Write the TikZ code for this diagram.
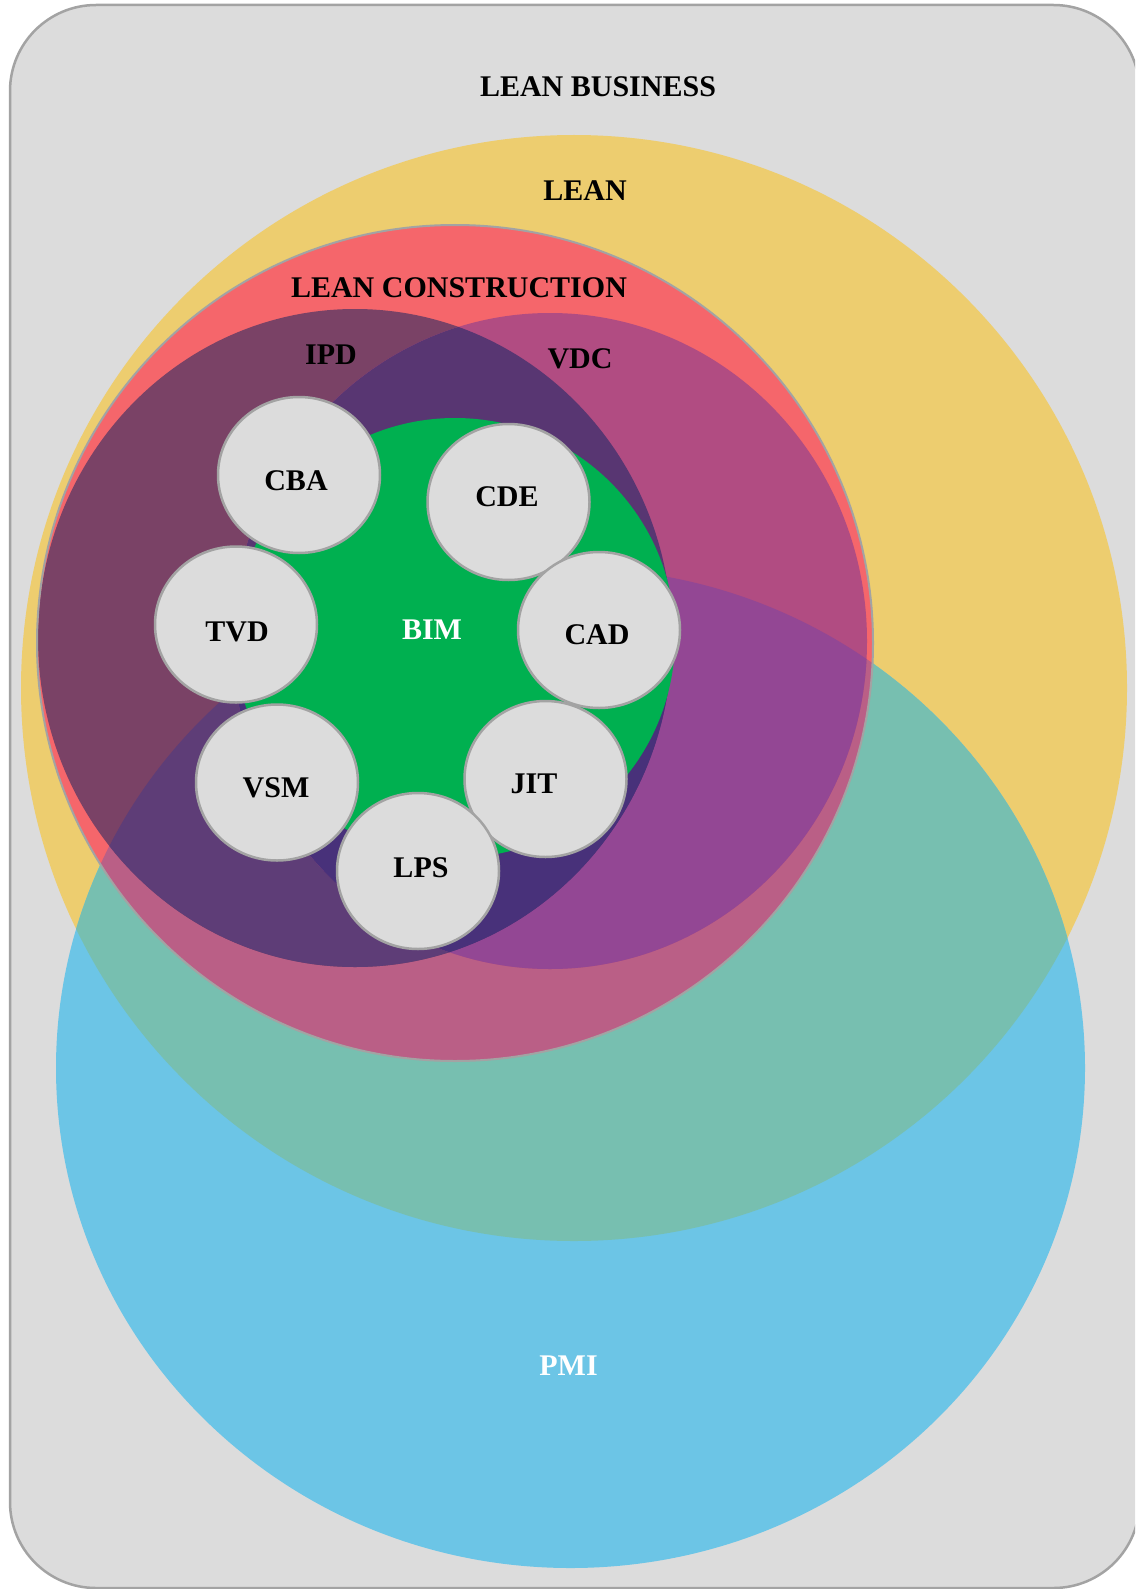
\documentclass[tikz,border=0pt]{standalone}
\usepackage{fontspec}
\setmainfont{Liberation Serif}
\usetikzlibrary{shapes.geometric}
\definecolor{bgc}{HTML}{DCDCDC}
\definecolor{bordc}{HTML}{A3A3A3}
\definecolor{yelc}{HTML}{EDCD6F}
\definecolor{bluc}{HTML}{6CC5E6}
\definecolor{ybc}{HTML}{77BFB0}
\definecolor{redc}{HTML}{F5666B}
\definecolor{rbc}{HTML}{BA5F86}
\definecolor{ipdc}{HTML}{7A4266}
\definecolor{ipdbc}{HTML}{5E3D77}
\definecolor{vdcc}{HTML}{B14C82}
\definecolor{vdcbc}{HTML}{934794}
\definecolor{ivc}{HTML}{583672}
\definecolor{ivbc}{HTML}{48317A}
\definecolor{bimc}{HTML}{00B050}
\begin{document}
\begin{tikzpicture}[x=1pt,y=-1pt,
  lbl/.style={font=\fontsize{30}{36}\selectfont\bfseries, inner sep=0pt},
  wlbl/.style={lbl, text=white},
  smallc/.style={ellipse, draw=bordc, line width=2.5pt, fill=bgc,
    minimum width=162pt, minimum height=156pt, inner sep=0pt}]
\useasboundingbox (0,0) rectangle (1135,1589);
\clip (0,0) rectangle (1135,1589);
% outer box
\draw[fill=bgc, draw=bordc, line width=2.5pt, rounded corners=86pt] (10,5) rectangle (1139.5,1588);
% LEAN (yellow)
\fill[yelc] (574,688) circle[radius=553pt];
% PMI (blue)
\fill[bluc] (570.5,1068) ellipse[x radius=514.5pt, y radius=500pt];
\begin{scope}
  \clip (574,688) circle[radius=553pt];
  \fill[ybc] (570.5,1068) ellipse[x radius=514.5pt, y radius=500pt];
\end{scope}
% LEAN CONSTRUCTION (red)
\fill[redc] (455,643) circle[radius=418pt];
\begin{scope}
  \clip (455,643) circle[radius=418pt];
  \fill[rbc] (570.5,1068) ellipse[x radius=514.5pt, y radius=500pt];
\end{scope}
% IPD
\fill[ipdc] (355,638) ellipse[x radius=317pt, y radius=329pt];
\begin{scope}
  \clip (355,638) ellipse[x radius=317pt, y radius=329pt];
  \fill[ipdbc] (570.5,1068) ellipse[x radius=514.5pt, y radius=500pt];
\end{scope}
% VDC
\fill[vdcc] (550,641) ellipse[x radius=317pt, y radius=328pt];
\begin{scope}
  \clip (550,641) ellipse[x radius=317pt, y radius=328pt];
  \fill[vdcbc] (570.5,1068) ellipse[x radius=514.5pt, y radius=500pt];
\end{scope}
% IPD and VDC overlap
\begin{scope}
  \clip (355,638) ellipse[x radius=317pt, y radius=329pt];
  \fill[ivc] (550,641) ellipse[x radius=317pt, y radius=328pt];
  \clip (550,641) ellipse[x radius=317pt, y radius=328pt];
  \fill[ivbc] (570.5,1068) ellipse[x radius=514.5pt, y radius=500pt];
\end{scope}
% outline of LEAN CONSTRUCTION
\draw[bordc, line width=2pt] (455,643) circle[radius=418pt];
% BIM
\fill[bimc] (455,638) circle[radius=220pt];
% small circles
\node[smallc] (cba) at (299,475) {};
\node[smallc] (cde) at (508.5,502) {};
\node[smallc] (tvd) at (236,624.5) {};
\node[smallc] (cad) at (599,630) {};
\node[smallc] (vsm) at (277,782.5) {};
\node[smallc] (jit) at (545.5,779) {};
\node[smallc] (lps) at (418,871) {};
% labels
\node[lbl] (tleanbiz) at (598,87) {LEAN BUSINESS};
\node[lbl] (tlean) at (585,191) {LEAN};
\node[lbl] (tlc) at (459,288) {LEAN CONSTRUCTION};
\node[lbl] (tipd) at (331,355) {IPD};
\node[lbl] (tvdc) at (580,359) {VDC};
\node[lbl] (tcba) at (296,481) {CBA};
\node[lbl] (tcde) at (507,497) {CDE};
\node[lbl] (ttvd) at (237,632) {TVD};
\node[lbl] (tcad) at (597,635) {CAD};
\node[lbl] (tvsm) at (276,788) {VSM};
\node[lbl] (tjit) at (534,784) {JIT};
\node[lbl] (tlps) at (421,868) {LPS};
\node[wlbl] (tbim) at (432,629.5) {BIM};
\node[wlbl] (tpmi) at (568.5,1366) {PMI};
\end{tikzpicture}
\end{document}
